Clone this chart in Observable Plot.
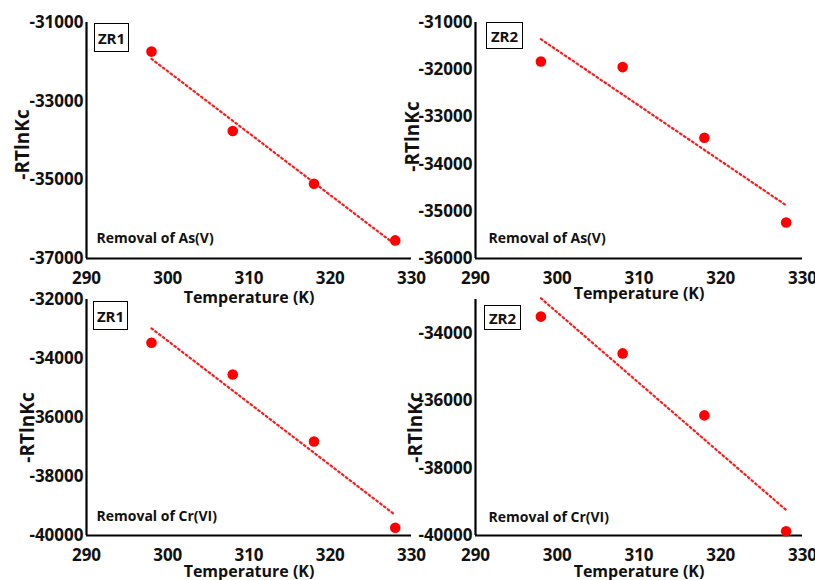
<!DOCTYPE html>
<html>
<head>
<meta charset="utf-8">
<script src="https://cdn.jsdelivr.net/npm/d3@7"></script>
<script src="https://cdn.jsdelivr.net/npm/@observablehq/plot@0.6"></script>
<style>
  html, body { margin: 0; padding: 0; background: #fff; }
  #wrap { position: relative; width: 815px; height: 580px; font-family: "Open Sans", sans-serif; }
  .panel { position: absolute; }
  .tag { position: absolute; border: 1.6px solid #000; box-sizing: border-box; display: flex; align-items: center; justify-content: center; font: bold 15px "Open Sans", sans-serif; color: #111; background: #fff; }
</style>
</head>
<body>
<div id="wrap"></div>
<script>
// ---- data ----
const temperatures = [298, 308, 318, 328];
const zr1AsV  = [-31740, -33760, -35100, -36540];
const zr2AsV  = [-31826, -31945, -33443, -35237];
const zr1CrVI = [-33468, -34542, -36814, -39739];
const zr2CrVI = [-33507, -34599, -36437, -39873];

const xTicks = [290, 300, 310, 320, 330];
const yTicks1 = [-37000, -35000, -33000, -31000];
const yTicks2 = [-36000, -35000, -34000, -33000, -32000, -31000];
const yTicks3 = [-40000, -38000, -36000, -34000, -32000];
const yTicks4 = [-40000, -38000, -36000, -34000];

const panels = [
  {values: zr1AsV, tag: "ZR1", note: "Removal of As(V)", yDomain: [-37000, -31000], yTicks: yTicks1,
   left: 0, top: 0, width: 420, height: 300, ml: 86, mr: 9, mt: 22, mb: 42,
   xLabDy: 39, yLabDx: -64, yLabDy: 4, noteDx: 10, noteDy: -20,
   tagBox: [94, 23, 35, 29]},
  {values: zr2AsV, tag: "ZR2", note: "Removal of As(V)", yDomain: [-36000, -31000], yTicks: yTicks2,
   left: 405, top: 0, width: 410, height: 300, ml: 70, mr: 13, mt: 22, mb: 42,
   xLabDy: 35, yLabDx: -63, yLabDy: -4, noteDx: 13, noteDy: -20,
   tagBox: [486, 22, 37, 27]},
  {values: zr1CrVI, tag: "ZR1", note: "Removal of Cr(VI)", yDomain: [-40000, -32000], yTicks: yTicks3,
   left: 0, top: 285, width: 420, height: 295, ml: 86, mr: 9, mt: 14, mb: 45,
   xLabDy: 36, yLabDx: -59, yLabDy: 10, noteDx: 10, noteDy: -19,
   tagBox: [93, 301, 35, 29]},
  {values: zr2CrVI, tag: "ZR2", note: "Removal of Cr(VI)", yDomain: [-40000, -33000], yTicks: yTicks4,
   left: 405, top: 285, width: 410, height: 295, ml: 70, mr: 13, mt: 14, mb: 45,
   xLabDy: 36, yLabDx: -60, yLabDy: 10, noteDx: 13, noteDy: -18,
   tagBox: [484, 305, 37, 25]}
];

const wrap = document.getElementById("wrap");
const font = "Open Sans";

panels.forEach(p => {
  const rows = temperatures.map((t, i) => ({T: t, v: p.values[i]}));
  const chart = Plot.plot({
    width: p.width, height: p.height,
    marginLeft: p.ml, marginRight: p.mr, marginTop: p.mt, marginBottom: p.mb,
    style: {background: "transparent", overflow: "visible", fontFamily: font},
    x: {domain: [290, 330]},
    y: {domain: p.yDomain},
    marks: [
      Plot.axisX({ticks: xTicks, tickSize: 0, tickPadding: 13, label: null, fontSize: 17, fontWeight: "bold", fill: "#111"}),
      Plot.axisY({ticks: p.yTicks, tickSize: 0, tickPadding: 3, label: null, fontSize: 17, fontWeight: "bold", fill: "#111", tickFormat: d => (d < 0 ? "-" : "") + Math.abs(d)}),
      Plot.ruleX([290], {stroke: "#000", strokeWidth: 2.2}),
      Plot.ruleY([p.yDomain[0]], {stroke: "#000", strokeWidth: 2.2}),
      Plot.linearRegressionY(rows, {x: "T", y: "v", stroke: "#ff1a1a", strokeWidth: 2.2, strokeDasharray: "1.8,3", ci: 0}),
      Plot.dot(rows, {x: "T", y: "v", r: 5.3, fill: "#ff0000"}),
      Plot.text(["Temperature (K)"], {text: d => d, frameAnchor: "bottom", lineAnchor: "middle", dy: p.xLabDy, fontSize: 16, fontWeight: "bold", fill: "#111"}),
      Plot.text(["-RTlnKc"], {text: d => d, frameAnchor: "left", lineAnchor: "middle", textAnchor: "middle", rotate: -90, dx: p.yLabDx, dy: p.yLabDy, fontSize: 19, fontWeight: "bold", fill: "#111"}),
      Plot.text([p.note], {text: d => d, frameAnchor: "bottom-left", textAnchor: "start", lineAnchor: "middle", dx: p.noteDx, dy: p.noteDy, fontSize: 14, fontWeight: "bold", fill: "#111"})
    ]
  });
  chart.classList.add("panel");
  chart.style.left = p.left + "px";
  chart.style.top = p.top + "px";
  wrap.appendChild(chart);

  const tag = document.createElement("div");
  tag.className = "tag";
  tag.textContent = p.tag;
  tag.style.left = p.tagBox[0] + "px";
  tag.style.top = p.tagBox[1] + "px";
  tag.style.width = p.tagBox[2] + "px";
  tag.style.height = p.tagBox[3] + "px";
  wrap.appendChild(tag);
});
</script>
</body>
</html>
